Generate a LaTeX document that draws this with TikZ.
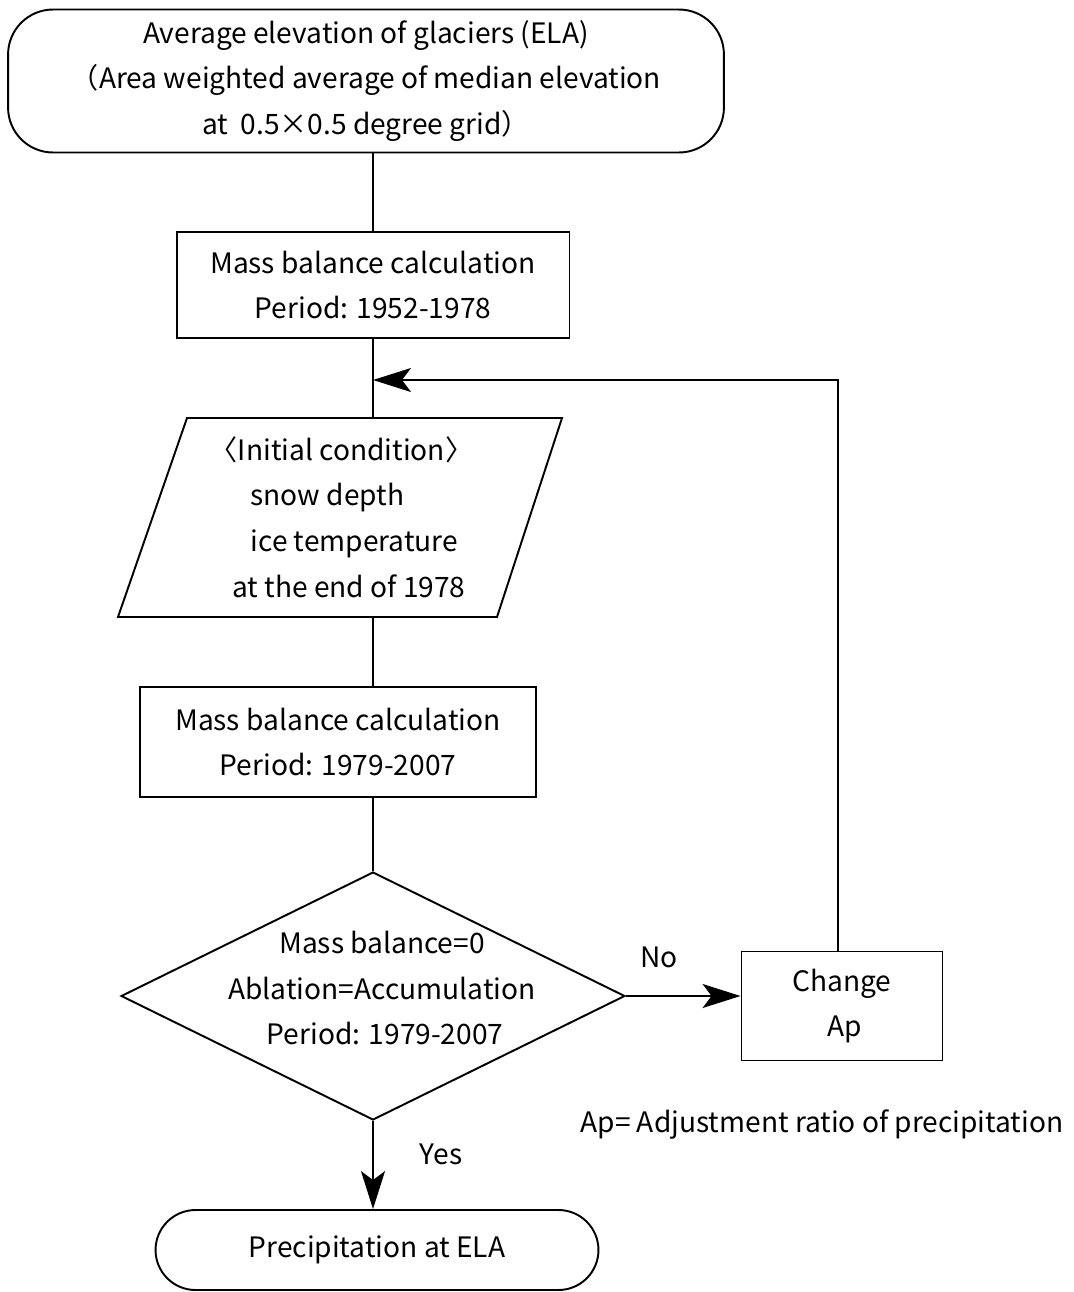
\documentclass[tikz,border=0pt]{standalone}
\usepackage{fontspec}
\setmainfont{Noto Sans CJK JP}
\usetikzlibrary{arrows.meta,positioning,shapes.geometric}

\begin{document}
\begin{tikzpicture}[x=0.02cm,y=-0.02cm,line width=1.1pt,
  every node/.style={font=\fontsize{16}{26}\selectfont,align=center},
  procbox/.style={draw,inner sep=0pt},
  flowarrow/.style={-{Stealth[length=0.76cm,width=0.48cm,inset=0.18cm]}}]
\useasboundingbox (0,0) rectangle (1073,1292);
% boxes
\node[procbox,rounded corners=0.9cm,minimum width=14.32cm,minimum height=2.86cm] (ela) at (366,81)
  {Average elevation of glaciers (ELA)\\（Area weighted average of median elevation\\at\ \ 0.5×0.5 degree grid）};
\node[procbox,minimum width=7.86cm,minimum height=2.12cm] (mb1) at (373,285)
  {Mass balance calculation\\Period: 1952-1978};
\coordinate (p1) at (187,418);
\coordinate (p2) at (562,418);
\coordinate (p3) at (497,617);
\coordinate (p4) at (118,617);
\coordinate (pt) at (373,418);
\coordinate (pb) at (373,617);
\draw (p1)--(p2)--(p3)--(p4)--cycle;
\node[anchor=west,align=left] (initc) at (203,517)
  {〈Initial condition〉\\\hspace*{1.45em}snow depth\\\hspace*{1.45em}ice temperature\\\hspace*{0.8em}at the end of 1978};
\node[procbox,minimum width=7.92cm,minimum height=2.2cm] (mb2) at (338,742)
  {Mass balance calculation\\Period: 1979-2007};
\node[draw,diamond,inner sep=0pt,minimum width=10.08cm,minimum height=4.96cm] (chk) at (373,996) {};
\node (chktxt) at (382,988) {Mass balance=0\\Ablation=Accumulation\\\ Period: 1979-2007};
\node[procbox,minimum width=4.02cm,minimum height=2.18cm] (chap) at (842,1006) {Change\\\ Ap};
\node[procbox,rounded corners=0.8cm,minimum width=8.86cm,minimum height=1.6cm] (prec) at (377,1250)
  {Precipitation at ELA};
% labels
\node (no) at (659,957) {No};
\node (yes) at (441,1154) {Yes};
\node (apnote) at (822,1125) {Ap= Adjustment ratio of precipitation};
% connectors
\coordinate (loop) at (373,380);
\draw (ela.south -| mb1) -- (mb1.north);
\draw (mb1.south) -- (pt);
\draw (pb) -- (pb |- mb2.north);
\draw (pb |- mb2.south) -- (chk.north);
\draw[flowarrow] (chk.east) -- (chap.west |- chk.east);
\draw[flowarrow] (838,0 |- chap.north) -- (838,0 |- loop) -- (loop);
\draw[flowarrow] (chk.south) -- (chk.south |- prec.north);
\end{tikzpicture}
\end{document}
